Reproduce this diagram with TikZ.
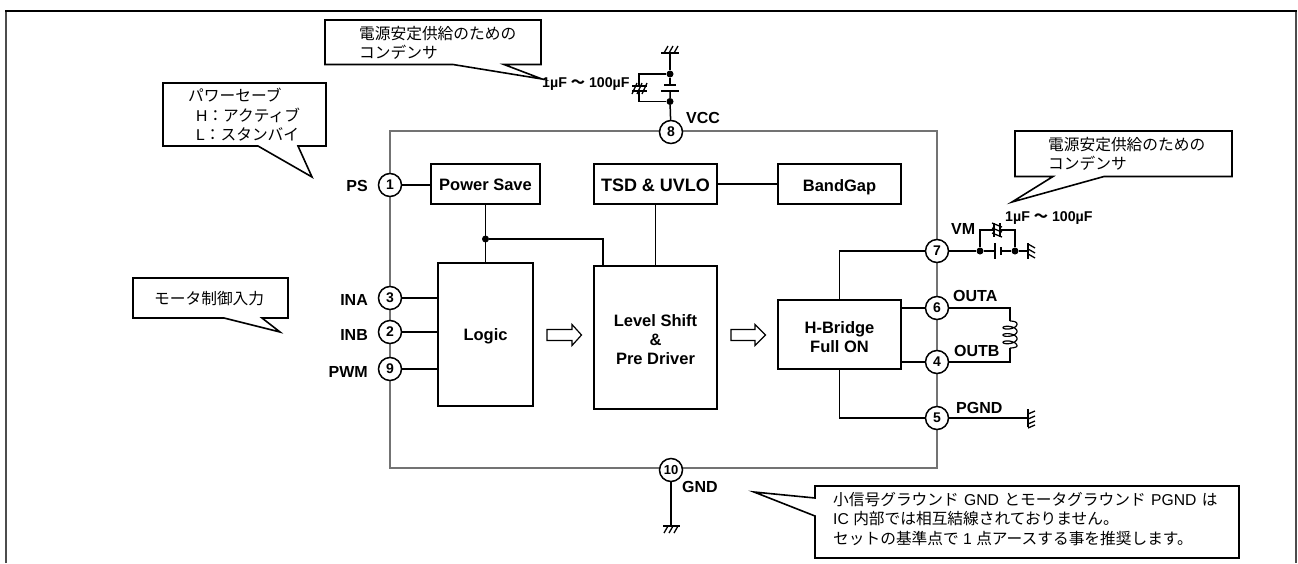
\documentclass[tikz,border=0pt]{standalone}
\usepackage{fontspec}
\setmainfont{Liberation Sans}
\newfontfamily\cjk{Noto Sans CJK JP}
\newcommand{\J}[1]{{\cjk #1}}
\newcommand{\St}[1]{\rule{0pt}{#1pt}}
\tikzset{
  x=1pt,y=-1pt,
  wire/.style={line width=1.5pt,line join=miter},
  hatch/.style={line width=1.3pt},
  blk/.style={draw=black,line width=1.5pt,fill=white,inner sep=0pt,font=\fontsize{16.5}{19}\selectfont\bfseries,align=center},
  pin/.style={circle,draw=black,line width=1.5pt,fill=white,minimum size=23pt,inner sep=0pt,font=\fontsize{14}{14}\selectfont\bfseries},
  pinlab/.style={inner sep=0pt,font=\fontsize{16}{16}\selectfont\bfseries},
  val/.style={inner sep=0pt,font=\fontsize{14.2}{14}\selectfont\bfseries},
  dot/.style={circle,fill=black,inner sep=0pt,minimum size=7pt},
  note/.style={draw=black,line width=1.6pt,fill=white,line join=miter},
  notetxt/.style={inner sep=0pt,anchor=west,align=left,font=\fontsize{15.7}{19.5}\selectfont},
  barrow/.style={draw=black,line width=1.2pt,fill=white},
}
\begin{document}
\begin{tikzpicture}
\useasboundingbox (0,0) rectangle (1298,563);
% page frame
\draw[line width=1.6pt,black!70] (6,563) -- (6,11) (1296,11) -- (1296,563);
\draw[line width=2pt,black] (5,11) -- (1297,11);
% IC outline
\node[draw=black!55,line width=1.6pt,minimum width=547pt,minimum height=337pt,inner sep=0pt] (ic) at (663.5,299.5) {};
% blocks
\node[blk,minimum width=109pt,minimum height=40pt] (ps) at (485.5,184) {\St{14}Power Save};
\node[blk,minimum width=123pt,minimum height=40pt,font=\fontsize{18}{20}\selectfont\bfseries] (tsd) at (655.5,184) {\St{15}TSD \& UVLO};
\node[blk,minimum width=123pt,minimum height=40pt] (bg) at (839.5,184) {\St{18}BandGap};
\node[blk,minimum width=95pt,minimum height=143pt] (logic) at (485.5,334.5) {\St{16}Logic};
\node[blk,minimum width=123pt,minimum height=143pt] (lvl) at (655.5,337.5) {\St{16}Level Shift\\\&\\Pre Driver};
\node[blk,minimum width=123pt,minimum height=69pt] (hb) at (839.5,334.5) {\St{18}H-Bridge\\Full ON};
% pins
\node[pin] (p1) at (390,185) {1};
\node[pin] (p3) at (390,298) {3};
\node[pin] (p2) at (390,332) {2};
\node[pin] (p9) at (390,369) {9};
\node[pin] (p8) at (671,132) {8};
\node[pin,font=\fontsize{13}{13}\selectfont\bfseries] (p10) at (671,470) {10};
\node[pin] (p7) at (937,251) {7};
\node[pin] (p6) at (937,308) {6};
\node[pin] (p4) at (937,362) {4};
\node[pin] (p5) at (937,418) {5};
% internal wiring
\draw[wire] (p1) -- (p1 -| ps.west);
\draw[wire] (p3) -- (p3 -| logic.west);
\draw[wire] (p2) -- (p2 -| logic.west);
\draw[wire] (p9) -- (p9 -| logic.west);
\draw[wire] (tsd.east) -- (bg.west);
\draw[wire] (tsd.south) -- (lvl.north);
\draw[wire] (ps.south) -- (logic.north);
\node[dot] (j1) at (485.5,239) {};
\coordinate (j1t) at (603,266);
\draw[wire] (j1) -| (j1t);
\draw[wire] (p6) -- (p6 -| hb.east);
\draw[wire] (p4) -- (p4 -| hb.east);
\draw[wire] (hb.north) |- (p7);
\draw[wire] (hb.south) |- (p5);
% block arrows
\draw[barrow] (547,329.5) -- (572,329.5) -- (572,324.5) -- (581.5,335) -- (572,345.5) -- (572,340.5) -- (547,340.5) -- cycle;
\draw[barrow] (731,329.5) -- (755,329.5) -- (755,324.5) -- (765.5,335) -- (755,345.5) -- (755,340.5) -- (731,340.5) -- cycle;
% pin labels
\node[pinlab,anchor=east] (lps) at (368,186) {PS};
\node[pinlab,anchor=east] (lina) at (368,300) {INA};
\node[pinlab,anchor=east] (linb) at (368,335) {INB};
\node[pinlab,anchor=east] (lpwm) at (368,372) {PWM};
\node[pinlab,anchor=west] (lvcc) at (686,118) {VCC};
\node[pinlab,anchor=west] (lgnd) at (682,487) {GND};
\node[pinlab,anchor=west] (lvm) at (951,229) {VM};
\node[pinlab,anchor=west] (louta) at (953,296) {OUTA};
\node[pinlab,anchor=west] (loutb) at (954,351) {OUTB};
\node[pinlab,anchor=west] (lpgnd) at (956,408) {PGND};
% VCC decoupling
\coordinate (gv) at (670,53);
\node[dot] (dv1) at (670,74) {};
\node[dot] (dv2) at (670,101.5) {};
\coordinate (cv1) at (670,85);
\coordinate (cv2) at (670,91);
\draw[wire] (gv) -- (dv1) -- (cv1);
\draw[wire] (cv2) -- (dv2) -- (p8);
\draw[line width=2pt] (664,85) -- (676,85);
\draw[line width=1.5pt] (661,91) -- (679,91);
\draw[wire] (661,53) -- (679,53);
\draw[hatch] (664,53) -- (668,46) (669,53) -- (673,46) (674,53) -- (678,46);
\coordinate (cc1) at (639,85);
\coordinate (cc2) at (639,91);
\draw[wire] (dv1) -| (cc1);
\draw[wire] (dv2) -| (cc2);
\draw[hatch] (632,86) -- (647,86) (632,91) -- (647,91);
\draw[hatch] (632,94) -- (637,83) (637,94) -- (642,83) (642,94) -- (647,83);
\node[val,anchor=west] (vc1) at (542,84) {1µF \J{～} 100µF};
% VM decoupling
\node[dot] (dm1) at (980,251) {};
\node[dot] (dm2) at (1015,251) {};
\coordinate (gm) at (1028,251);
\coordinate (cm1) at (995,251);
\coordinate (cm2) at (1001,251);
\draw[wire] (p7) -- (dm1) -- (cm1);
\draw[wire] (cm2) -- (dm2) -- (gm);
\draw[line width=1.5pt] (995,243) -- (995,259);
\draw[line width=2pt] (1001,247) -- (1001,255);
\draw[line width=2.2pt] (1028,243) -- (1028,259);
\draw[hatch] (1028,244) -- (1035,248) (1028,249) -- (1035,253) (1028,254) -- (1035,258);
\coordinate (cp1) at (994,230);
\coordinate (cp2) at (1000,230);
\draw[wire] (dm1) |- (cp1);
\draw[wire] (dm2) |- (cp2);
\draw[hatch] (994,223) -- (994,237) (1000,223) -- (1000,237);
\draw[hatch] (992,223) -- (1002,227) (992,228) -- (1002,232) (992,233) -- (1002,237);
\node[val,anchor=west] (vc2) at (1005,218) {1µF \J{～} 100µF};
% motor coil
\coordinate (ca) at (1010,321);
\coordinate (cb) at (1010,348);
\draw[wire] (p6) -| (ca);
\draw[wire] (p4) -| (cb);
\draw[line width=1.2pt] (ca) .. controls (1014,321) and (1017,322) .. (1017,324)
  plot[domain=90:1170,samples=121,smooth,variable=\t] ({1010+7*sin(\t)},{324+1.167*(\t-90)*3.14159/180-3*cos(\t)})
  .. controls (1017,347) and (1014,348) .. (cb);
% PGND ground
\coordinate (gp) at (1028,418);
\draw[wire] (p5) -- (gp);
\draw[wire] (1028,409) -- (1028,427);
\draw[hatch] (1028,414) -- (1035,411) (1028,419) -- (1035,416) (1028,424) -- (1035,421) (1028,428) -- (1035,425);
% GND ground
\coordinate (gg) at (671,526);
\draw[wire] (p10) -- (gg);
\draw[wire] (663,526) -- (680,526);
\draw[hatch] (668,526) -- (664,533) (673,526) -- (669,533) (678,526) -- (674,533);
% callouts
\draw[note] (325,20) -- (541,20) -- (541,64.5) -- (504,64.5) -- (542,79) -- (453,64.5) -- (325,64.5) -- cycle;
\node[notetxt] (t1) at (359,43) {\J{電源安定供給のための}\\\J{コンデンサ}};
\draw[note] (163,83) -- (326,83) -- (326,146) -- (298,146) -- (312,177) -- (258,146) -- (163,146) -- cycle;
\node[notetxt] (t2) at (188,115) {\J{パワーセーブ}\\\hspace{8pt}H\J{：アクティブ}\\\hspace{8pt}L\J{：スタンバイ}};
\draw[note] (133,278) -- (288,278) -- (288,318) -- (262,318) -- (280,332) -- (224,318) -- (133,318) -- cycle;
\node[notetxt] (t3) at (154,299) {\J{モータ制御入力}};
\draw[note] (815,486) -- (1239,486) -- (1239,558) -- (815,558) -- (815,516) -- (754,492) -- (815,498) -- cycle;
\node[notetxt] (t4) at (833,519) {\J{小信号グラウンド}\hspace{1pt} GND \hspace{1pt}\J{とモータグラウンド}\hspace{1pt} PGND \hspace{1pt}\J{は}\\IC \J{内部では相互結線されておりません。}\\\J{セットの基準点で} 1 \J{点アースする事を推奨します。}};
\draw[note] (1015,131) -- (1232,131) -- (1232,176.5) -- (1104,176.5) -- (1012,202) -- (1053,176.5) -- (1015,176.5) -- cycle;
\node[notetxt] (t5) at (1048,154) {\J{電源安定供給のための}\\\J{コンデンサ}};
\end{tikzpicture}
\end{document}
